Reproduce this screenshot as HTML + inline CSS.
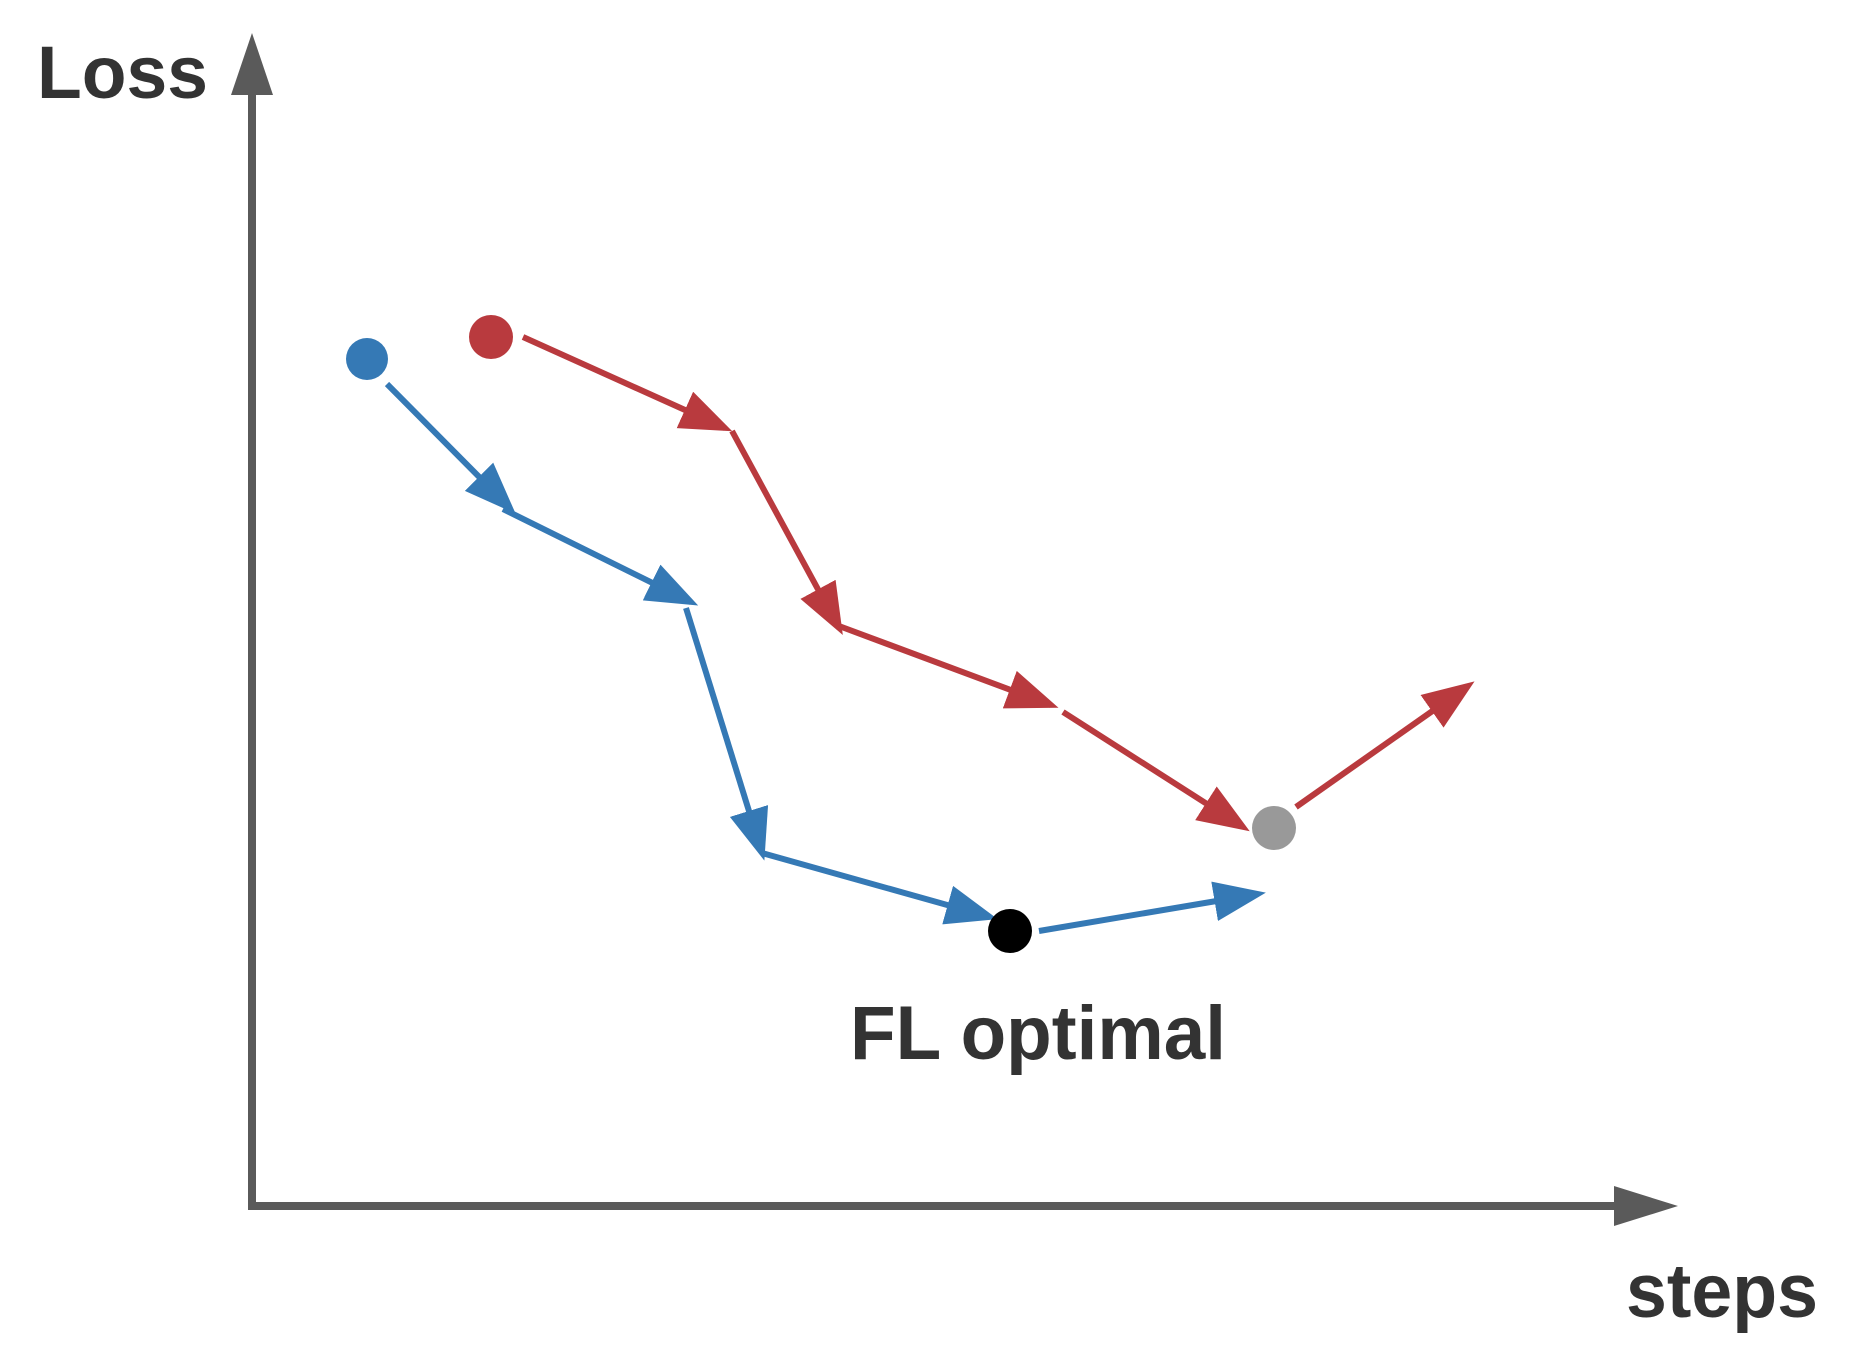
<!DOCTYPE html>
<html><head><meta charset="utf-8"><style>html,body{margin:0;padding:0;background:#fff}svg{display:block}</style></head>
<body>
<svg width="1852" height="1360" viewBox="0 0 1852 1360" xmlns="http://www.w3.org/2000/svg">
<defs>
<marker id="b" markerUnits="userSpaceOnUse" markerWidth="56" markerHeight="42" refX="44" refY="20" orient="auto"><path d="M0,0 L52,20 L0,40 z" fill="#3579b5"/></marker>
<marker id="r" markerUnits="userSpaceOnUse" markerWidth="56" markerHeight="42" refX="44" refY="20" orient="auto"><path d="M0,0 L52,20 L0,40 z" fill="#b93a3e"/></marker>
</defs>
<g stroke="#5a5a5a" stroke-width="8" fill="none">
<line x1="252" y1="1210" x2="252" y2="90"/>
<line x1="248" y1="1206" x2="1618" y2="1206"/>
</g>
<polygon points="252,33 231,95 273,95" fill="#5a5a5a"/>
<polygon points="1678,1206 1614,1186 1614,1226" fill="#5a5a5a"/>
<g font-family="Liberation Sans, sans-serif" font-weight="bold" fill="#333">
<text x="37" y="98" font-size="74" textLength="171" lengthAdjust="spacingAndGlyphs">Loss</text>
<text x="850" y="1059" font-size="76" textLength="376" lengthAdjust="spacingAndGlyphs">FL optimal</text>
<text x="1626" y="1317" font-size="76" textLength="192" lengthAdjust="spacingAndGlyphs">steps</text>
</g>
<g stroke="#3579b5" stroke-width="6" fill="none" marker-end="url(#b)">
<line x1="387" y1="384" x2="510" y2="508"/>
<line x1="503" y1="509" x2="691" y2="602"/>
<line x1="686" y1="608" x2="762" y2="853"/>
<line x1="762" y1="853" x2="990" y2="917"/>
<line x1="1039" y1="931" x2="1258" y2="894"/>
</g>
<g stroke="#b93a3e" stroke-width="6" fill="none" marker-end="url(#r)">
<line x1="523" y1="337" x2="725" y2="428"/>
<line x1="732" y1="431" x2="839" y2="628"/>
<line x1="839" y1="626" x2="1051" y2="705"/>
<line x1="1063" y1="712" x2="1243" y2="827"/>
<line x1="1296" y1="807" x2="1468" y2="686"/>
</g>
<circle cx="367" cy="359" r="21" fill="#3579b5"/>
<circle cx="491" cy="337" r="22" fill="#b93a3e"/>
<circle cx="1010" cy="931" r="22" fill="#000"/>
<circle cx="1274" cy="828" r="22" fill="#999"/>
</svg>
</body></html>
